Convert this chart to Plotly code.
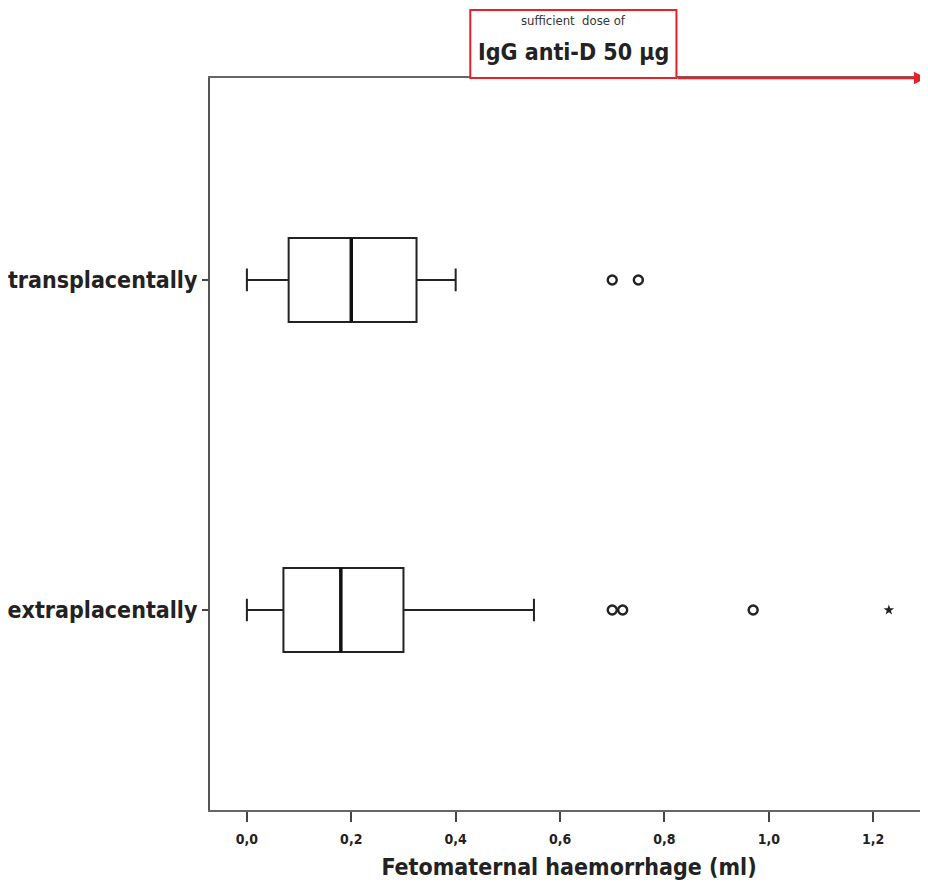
import plotly.graph_objects as go

# Data
categories = ["transplacentally", "extraplacentally"]
positions = [1, 0]
lower_whisker = [0.0, 0.0]
q1 = [0.08, 0.07]
median = [0.20, 0.18]
q3 = [0.325, 0.30]
upper_whisker = [0.40, 0.55]
outliers_trans = [0.70, 0.75]
outliers_extra = [0.70, 0.72, 0.97]
extreme_extra = [1.23]
x_ticks = [0.0, 0.2, 0.4, 0.6, 0.8, 1.0, 1.2]
dose_box = [0.428, 0.823]

FONT = "Liberation Sans Narrow, DejaVu Sans Condensed, Liberation Sans, Arial, sans-serif"
BW = 0.255

fig = go.Figure()
for i, cat in enumerate(categories):
    fig.add_trace(go.Box(
        y=[positions[i]], orientation="h",
        q1=[q1[i]], median=[median[i]], q3=[q3[i]],
        lowerfence=[lower_whisker[i]], upperfence=[upper_whisker[i]],
        width=BW, whiskerwidth=0.27,
        fillcolor="white", line=dict(color="#222222", width=2),
        boxpoints=False, showlegend=False, hoverinfo="skip"))
    # thicker median line
    fig.add_trace(go.Scatter(
        x=[median[i], median[i]], y=[positions[i] - BW / 2, positions[i] + BW / 2],
        mode="lines", line=dict(color="#111111", width=3.5),
        showlegend=False, hoverinfo="skip"))

fig.add_trace(go.Scatter(
    x=outliers_trans, y=[positions[0]] * len(outliers_trans), mode="markers",
    marker=dict(symbol="circle-open", size=9, color="#222222", line=dict(width=2.4)),
    showlegend=False, hoverinfo="skip"))
fig.add_trace(go.Scatter(
    x=outliers_extra, y=[positions[1]] * len(outliers_extra), mode="markers",
    marker=dict(symbol="circle-open", size=9, color="#222222", line=dict(width=2.4)),
    showlegend=False, hoverinfo="skip"))
fig.add_trace(go.Scatter(
    x=extreme_extra, y=[positions[1]] * len(extreme_extra), mode="markers",
    marker=dict(symbol="star", size=8, color="#222222"),
    showlegend=False, hoverinfo="skip"))

# Dose box and arrow
fig.add_shape(type="rect", xref="x", yref="paper", x0=dose_box[0], x1=dose_box[1],
              y0=1.0, y1=1.093, line=dict(color="#e8202a", width=2),
              fillcolor="white", layer="above")
fig.add_annotation(xref="x", yref="paper", x=1.302, y=1.0, axref="x", ayref="pixel",
                   ax=dose_box[1], ay=0, showarrow=True, arrowhead=2, arrowsize=1,
                   arrowwidth=2.5, arrowcolor="#e8202a", text="")
fig.add_annotation(xref="x", yref="paper", x=sum(dose_box) / 2, y=1.078,
                   yanchor="middle", text="sufficient  dose of", showarrow=False,
                   font=dict(family=FONT, size=13, color="#333333"))
fig.add_annotation(xref="x", yref="paper", x=sum(dose_box) / 2, y=1.036,
                   yanchor="middle", text="<b>IgG anti-D 50 µg</b>", showarrow=False,
                   font=dict(family=FONT, size=23, color="#222222"))

fig.update_layout(
    width=920, height=884,
    margin=dict(l=200, r=0, t=70, b=82),
    plot_bgcolor="white", paper_bgcolor="white",
    separators=",.",
    font=dict(family=FONT, color="#222222"),
    xaxis=dict(range=[-0.0707, 1.305], tickvals=x_ticks, tickformat=".1f",
               showgrid=False, zeroline=False, showline=True, mirror=True,
               linecolor="#666666", linewidth=2, ticks="outside", ticklen=10,
               tickwidth=2, tickcolor="#444444", ticklabelstandoff=5,
               tickfont=dict(family=FONT, size=14, color="#222222", weight="bold"),
               title=dict(text="<b>Fetomaternal haemorrhage (ml)</b>",
                          font=dict(family=FONT, size=23, color="#222222"),
                          standoff=13)),
    yaxis=dict(range=[-0.606, 1.612], tickvals=positions, ticktext=categories,
               showgrid=False, zeroline=False, showline=True,
               linecolor="#555555", linewidth=2, ticks="outside", ticklen=6,
               tickwidth=2, tickcolor="#444444",
               tickfont=dict(family=FONT, size=23, color="#222222", weight="bold")),
)

fig.write_html("out.html")
